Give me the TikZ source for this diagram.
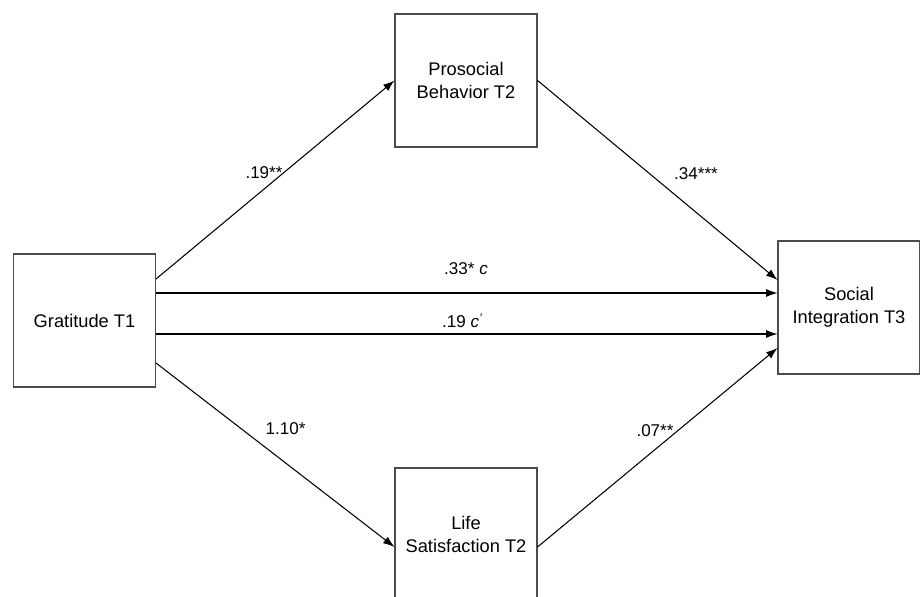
\documentclass[tikz,border=0pt]{standalone}
\usepackage{fontspec}
\setmainfont{Liberation Sans}
\usepackage{xcolor}
\usepackage{tikz}
\usetikzlibrary{arrows.meta,positioning,calc}

\begin{document}
\begin{tikzpicture}[
      x=0.02cm, y=-0.02cm,
      box/.style = {draw=black!70, line width=0.6pt, minimum width=2.84cm,
                    minimum height=2.66cm, inner sep=0pt, align=center,
                    font=\fontsize{10.4}{12.8}\selectfont},
      coef/.style = {inner sep=1pt, font=\fontsize{9.7}{11}\selectfont},
      arr/.style = {line width=0.6pt, -{Latex[length=6.5pt,width=4.6pt]}}
    ]
    \useasboundingbox (0,0) rectangle (920,597);
    % variables
    \node[box] (grat) at (84.5,320.5) {Gratitude T1};
    \node[box] (pro) at (466,80.5) {Prosocial\\Behavior T2};
    \node[box] (life) at (466,534.5) {Life\\Satisfaction T2};
    \node[box] (soc) at (849,307.5) {Social\\Integration T3};
    % paths
    \draw[arr] ($(grat.east)+(0,-41.5)$) -- (pro.west);
    \draw[arr] (pro.east) -- ($(soc.west)+(0,-27.5)$);
    \draw[arr] ($(grat.east)+(0,-27.5)$) -- ($(soc.west)+(0,-14.5)$);
    \draw[arr] ($(grat.east)+(0,13.5)$) -- ($(soc.west)+(0,26.5)$);
    \draw[arr] ($(grat.east)+(0,42.5)$) -- ($(life.west)+(0,12.5)$);
    \draw[arr] ($(life.east)+(0,12.5)$) -- ($(soc.west)+(0,40.5)$);
    % coefficients
    \node[coef] (ca) at (264,173) {.19**};
    \node[coef] (cb) at (696,174) {.34***};
    \node[coef] (cc) at (466,269) {.33* \textit{c}};
    \node[coef] (cd) at (462,321) {.19 \textit{c}\raisebox{0.6ex}{\scriptsize\textit{'}}};
    \node[coef] (ce) at (285.5,428.5) {1.10*};
    \node[coef] (cf) at (655,431) {.07**};
  \end{tikzpicture}
\end{document}
